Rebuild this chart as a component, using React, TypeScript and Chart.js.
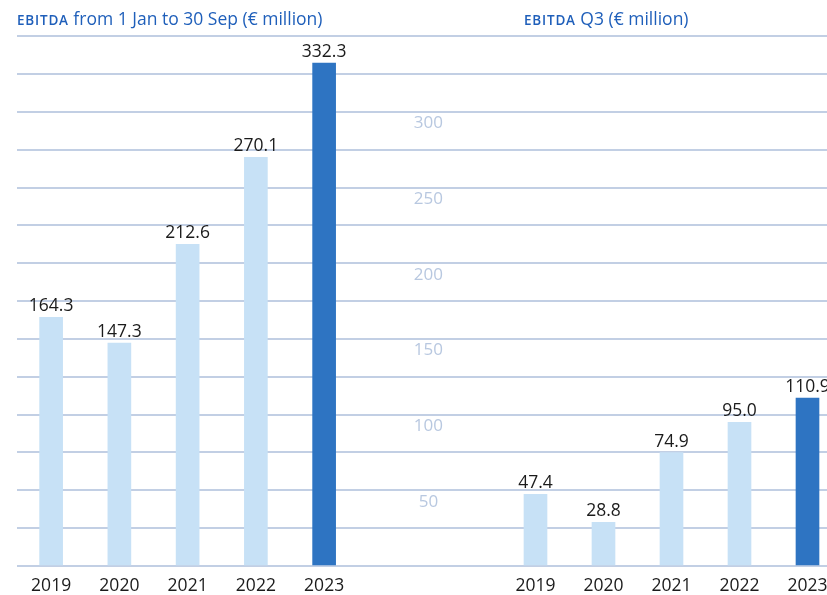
import React, { useEffect, useRef } from "react";
import { Chart, registerables } from "chart.js";

Chart.register(...registerables);

// ---- data ----
const years = ["2019", "2020", "2021", "2022", "2023"];
const ytdValues = [164.3, 147.3, 212.6, 270.1, 332.3];
const q3Values = [47.4, 28.8, 74.9, 95.0, 110.9];
const yTickLabels = [50, 100, 150, 200, 250, 300];
const yMax = 350;
const yStep = 25;
const titlePrefix = "EBITDA";
const titleLeft = "from 1 Jan to 30 Sep (€ million)";
const titleRight = "Q3 (€ million)";
const blankSlots = 7; // empty category slots before the Q3 group

// ---- styles ----
const LIGHT = "#c7e1f6";
const DARK = "#2e74c2";
const GRID = "#c2cfe4";
const TICK = "#b8c8e0";
const TEXT = "#1b1b1b";
const TITLE = "#1f5fba";
const FONT = "'Open Sans', 'Noto Sans', sans-serif";

const valueLabels = {
  id: "valueLabels",
  afterDatasetsDraw(chart: any) {
    const ctx = chart.ctx;
    ctx.save();
    ctx.font = `17.5px ${FONT}`;
    ctx.fillStyle = TEXT;
    ctx.textAlign = "center";
    ctx.textBaseline = "alphabetic";
    chart.data.datasets.forEach((ds: any, di: number) => {
      const meta = chart.getDatasetMeta(di);
      meta.data.forEach((el: any, i: number) => {
        const v = ds.data[i];
        if (v == null) return;
        ctx.fillText(Number(v).toFixed(1), el.x, el.y - 6);
      });
    });
    ctx.restore();
  },
};

function barColors(values: (number | null)[]) {
  let last = -1;
  values.forEach((v, i) => {
    if (v != null) last = i;
  });
  return values.map((_, i) => (i === last ? DARK : LIGHT));
}

function xScale() {
  return {
    type: "category" as const,
    offset: true,
    grid: { display: false, drawTicks: false },
    border: { display: false },
    ticks: {
      color: TEXT,
      font: { family: FONT, size: 17.5 },
      padding: 10,
      maxRotation: 0,
      autoSkip: false,
    },
  };
}

export default function App() {
  const leftRef = useRef<HTMLCanvasElement>(null);
  const rightRef = useRef<HTMLCanvasElement>(null);

  useEffect(() => {
    const left = new Chart(leftRef.current!, {
      type: "bar",
      data: {
        labels: years,
        datasets: [
          {
            data: ytdValues,
            backgroundColor: barColors(ytdValues),
            barThickness: 23,
          },
        ],
      },
      options: {
        animation: false,
        responsive: false,
        devicePixelRatio: 1,
        layout: { padding: { left: 17, top: 36.3, right: 0, bottom: 0 } },
        plugins: { legend: { display: false }, tooltip: { enabled: false } },
        scales: {
          x: xScale(),
          y: {
            position: "right",
            min: 0,
            max: yMax,
            border: { display: false },
            grid: { color: GRID, lineWidth: 2, drawTicks: false },
            ticks: {
              stepSize: yStep,
              autoSkip: false,
              padding: 55.6,
              crossAlign: "center",
              labelOffset: 11.5,
              color: TICK,
              font: { family: FONT, size: 17 },
              callback: (v: any) => (yTickLabels.includes(Number(v)) ? String(v) : ""),
            },
            afterFit: (s: any) => {
              s.width = 141.75;
              s.paddingTop = 0;
              s.paddingBottom = 0;
            },
          },
        },
      },
      plugins: [valueLabels],
    });

    const rLabels = [...Array(blankSlots).fill(""), ...years];
    const rData = [...Array(blankSlots).fill(null), ...q3Values];
    const right = new Chart(rightRef.current!, {
      type: "bar",
      data: {
        labels: rLabels,
        datasets: [
          {
            data: rData,
            backgroundColor: barColors(rData),
            barThickness: 23,
          },
        ],
      },
      options: {
        animation: false,
        responsive: false,
        devicePixelRatio: 1,
        layout: { padding: { left: 25.5, top: 36.3, right: 0.5, bottom: 0 } },
        plugins: { legend: { display: false }, tooltip: { enabled: false } },
        scales: {
          x: xScale(),
          y: {
            min: 0,
            max: yMax,
            border: { display: false },
            grid: { color: GRID, lineWidth: 2, drawTicks: false },
            ticks: { stepSize: yStep, display: false },
          },
        },
      },
      plugins: [valueLabels],
    });

    return () => {
      left.destroy();
      right.destroy();
    };
  }, []);

  const titleStyle: React.CSSProperties = {
    position: "absolute",
    top: 10,
    fontFamily: FONT,
    fontSize: 17.5,
    lineHeight: "17px",
    color: TITLE,
    whiteSpace: "nowrap",
    zIndex: 3,
  };
  const capsStyle: React.CSSProperties = { fontSize: 13.5, fontWeight: 600, letterSpacing: 0.8 };

  return (
    <div
      style={{
        position: "fixed",
        left: 0,
        top: 0,
        width: 827,
        height: 595,
        overflow: "hidden",
        background: "#ffffff",
      }}
    >
      <canvas
        ref={rightRef}
        width={842}
        height={607}
        style={{ position: "absolute", left: 0, top: 0, zIndex: 1 }}
      />
      <canvas
        ref={leftRef}
        width={500}
        height={607}
        style={{ position: "absolute", left: 0, top: 0, zIndex: 2 }}
      />
      <div style={{ ...titleStyle, left: 17 }}>
        <span style={capsStyle}>{titlePrefix}</span> {titleLeft}
      </div>
      <div style={{ ...titleStyle, left: 524 }}>
        <span style={capsStyle}>{titlePrefix}</span> {titleRight}
      </div>
    </div>
  );
}
